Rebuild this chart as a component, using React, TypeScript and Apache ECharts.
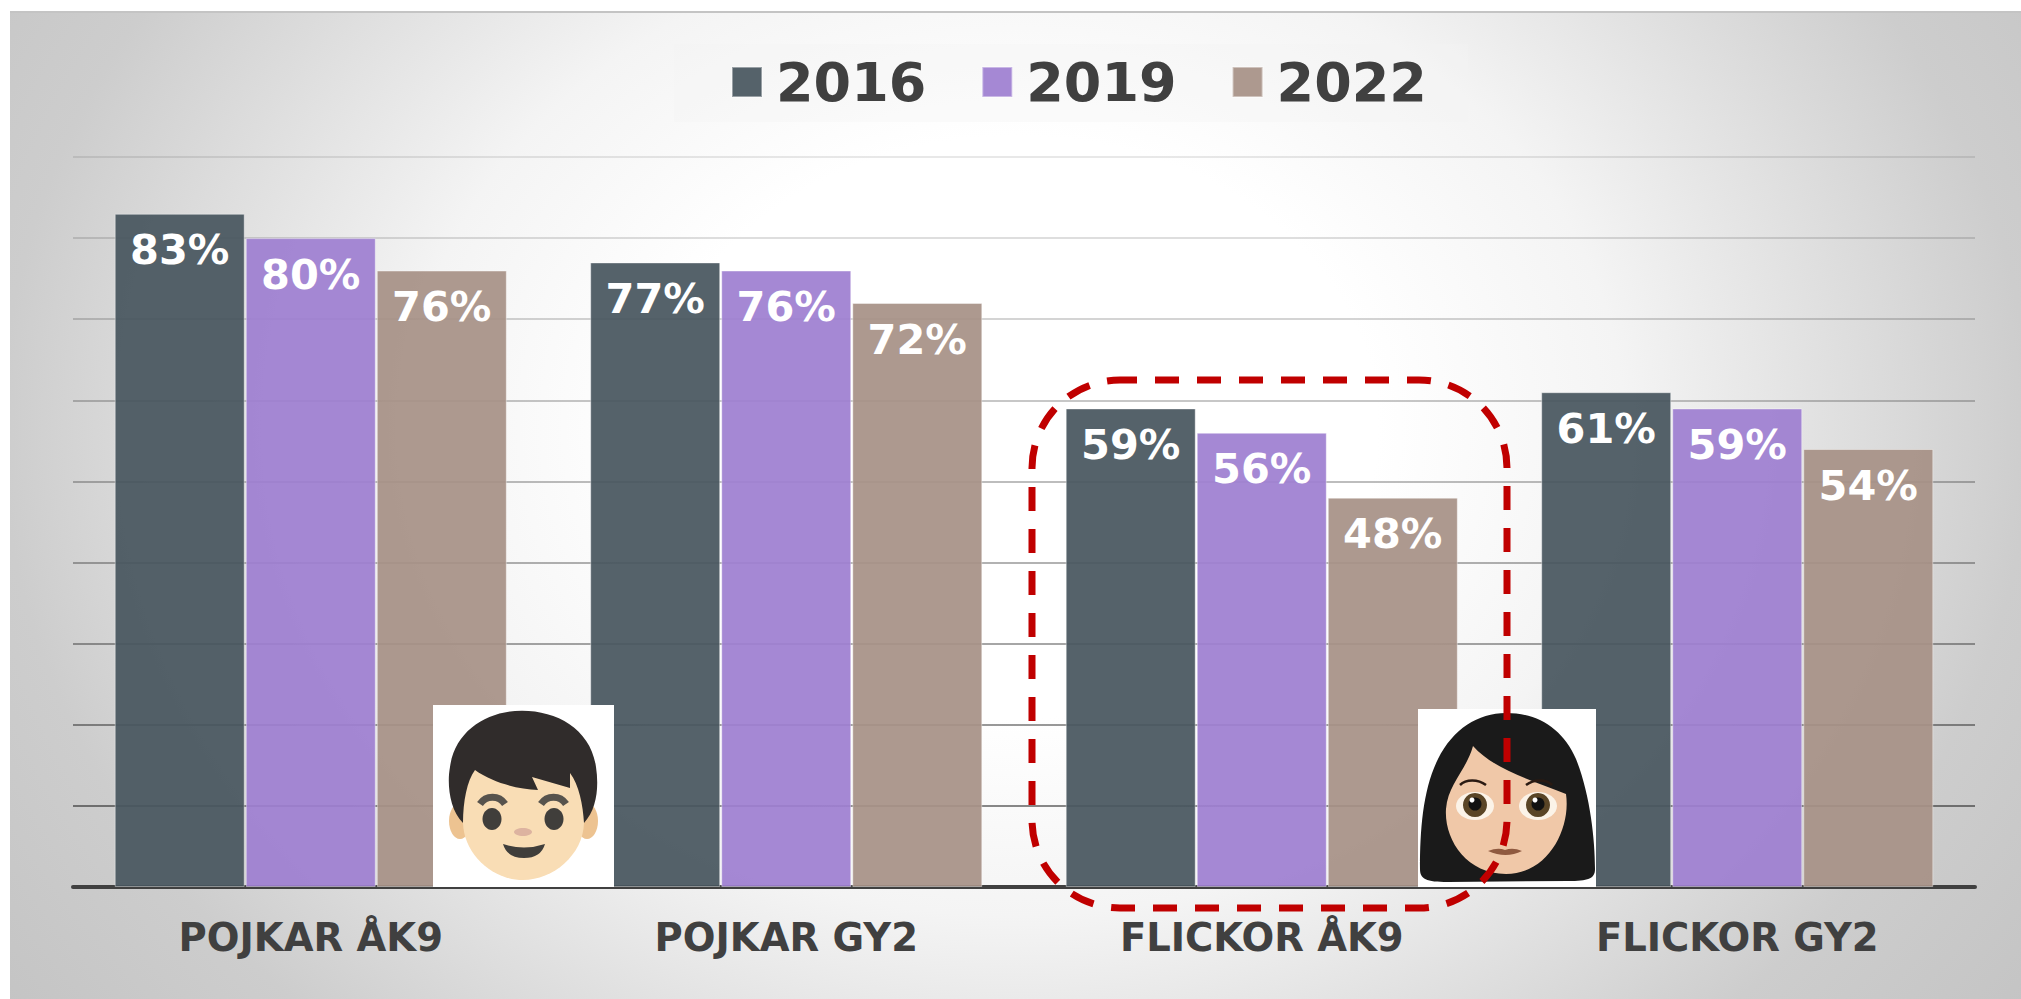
import React, { useEffect, useRef } from "react";
import * as echarts from "echarts";

const categories = ["POJKAR ÅK9", "POJKAR GY2", "FLICKOR ÅK9", "FLICKOR GY2"];
const years = ["2016", "2019", "2022"];
const values2016 = [83, 77, 59, 61];
const values2019 = [80, 76, 56, 59];
const values2022 = [76, 72, 48, 54];
const seriesColors = ["rgba(72,86,95,0.93)", "rgba(158,127,209,0.93)", "rgba(167,145,134,0.93)"];
const gridColors = [
  "rgba(0,0,0,0.5)", "rgba(0,0,0,0.46)", "rgba(0,0,0,0.4)", "rgba(0,0,0,0.35)", "rgba(0,0,0,0.3)",
  "rgba(0,0,0,0.26)", "rgba(0,0,0,0.22)", "rgba(0,0,0,0.17)", "rgba(0,0,0,0.13)", "rgba(0,0,0,0.09)",
];

const BOY_HAIR = "M30 118 C 16 104 14 78 17 62 C 22 25 55 5.7 89 5.7 C 125 5.7 158 25 163 62 C 166 82 164 104 151 118 C 150 100 146 80 137 68 L 137 83 L 99 72 L 105 85 C 85 84 60 78 42 65 C 34 76 30 96 30 118 Z";
const BOY_FACE = "M30 85 C 30 60 60 45 90 45 C 120 45 151 60 151 85 L 151 118 C 150 150 120 175 90 175 C 60 175 31 150 30 118 Z";
const BOY_MOUTH = "M70 139 Q 91 146 112 139 Q 108 153 91 153 Q 74 153 70 139 Z";
const GIRL_HAIR = "M2 160 C 2 120 5 80 20 50 C 35 20 60 4 88 4 C 120 4 145 20 158 50 C 172 85 177 130 177 160 C 177 170 170 172 150 172 L 30 173 C 8 173 2 170 2 160 Z";
const GIRL_FACE = "M55 37 C 75 60 115 72 148 85 C 153 120 130 165 88 165 C 48 165 26 130 28 100 C 30 75 48 62 55 37 Z";
const GIRL_MOUTH = "M70 142 Q 80 138 87 141 Q 95 138 104 142 Q 88 150 70 142 Z";

export default function App() {
  const ref = useRef<HTMLDivElement>(null);
  useEffect(() => {
    document.body.style.margin = "0";
    echarts.graphic.registerShape("boyHair", echarts.graphic.extendPath(BOY_HAIR, {}));
    echarts.graphic.registerShape("boyFace", echarts.graphic.extendPath(BOY_FACE, {}));
    echarts.graphic.registerShape("boyMouth", echarts.graphic.extendPath(BOY_MOUTH, {}));
    echarts.graphic.registerShape("girlHair", echarts.graphic.extendPath(GIRL_HAIR, {}));
    echarts.graphic.registerShape("girlFace", echarts.graphic.extendPath(GIRL_FACE, {}));
    echarts.graphic.registerShape("girlMouth", echarts.graphic.extendPath(GIRL_MOUTH, {}));
    const chart = echarts.init(ref.current!, undefined, { renderer: "svg" });
    const allValues = [values2016, values2019, values2022];
    const z = 50;
    chart.setOption({
      animation: false,
      legend: {
        left: 731,
        top: 55,
        padding: 0,
        itemWidth: 30,
        itemHeight: 30,
        itemGap: 55,
        icon: "rect",
        textStyle: { fontFamily: "DejaVu Sans", fontWeight: "bold", fontSize: 54, color: "#404040", padding: [0, 0, 0, 9] },
        data: years,
      },
      grid: { left: 73, top: 157, width: 1902, height: 730 },
      xAxis: {
        type: "category",
        data: categories,
        axisTick: { show: false },
        axisLine: { lineStyle: { color: "#404040", width: 4 } },
        axisLabel: { margin: 31, fontFamily: "DejaVu Sans", fontWeight: "bold", fontSize: 38.5, color: "#404040" },
      },
      yAxis: {
        type: "value",
        min: 0,
        max: 90,
        interval: 10,
        axisLabel: { show: false },
        axisLine: { show: false },
        axisTick: { show: false },
        splitLine: { lineStyle: { color: gridColors, width: 2 } },
      },
      series: years.map((y, i) => ({
        name: y,
        type: "bar",
        barWidth: 130,
        barGap: "0.8%",
        data: allValues[i],
        itemStyle: { color: seriesColors[i], borderColor: "rgba(255,255,255,0.4)", borderWidth: 1 },
        label: {
          show: true,
          position: "insideTop",
          distance: 15,
          formatter: "{c}%",
          fontFamily: "DejaVu Sans",
          fontWeight: "bold",
          fontSize: 41.5,
          color: "#ffffff",
        },
      })),
      graphic: [
        {
          type: "rect", z: 1, silent: true,
          shape: { x: 674, y: 44, width: 794, height: 78 },
          style: { fill: "rgba(244,244,244,0.35)" },
        },
        {
          type: "group", x: 433, y: 705, children: [
            { type: "rect", z, shape: { x: 0, y: 0, width: 181, height: 182 }, style: { fill: "#ffffff" } },
            { type: "ellipse", z, shape: { cx: 27, cy: 116, rx: 11, ry: 18 }, style: { fill: "#EDC391" } },
            { type: "ellipse", z, shape: { cx: 154, cy: 116, rx: 11, ry: 18 }, style: { fill: "#EDC391" } },
            { type: "boyFace", z, style: { fill: "#F9DDB5" } },
            { type: "boyHair", z, style: { fill: "#302c2b" } },
            { type: "ellipse", z, shape: { cx: 59, cy: 114, rx: 9.5, ry: 11 }, style: { fill: "#403e3b" } },
            { type: "ellipse", z, shape: { cx: 121, cy: 114, rx: 9.5, ry: 11 }, style: { fill: "#403e3b" } },
            { type: "bezierCurve", z, shape: { x1: 47, y1: 99, x2: 72, y2: 99, cpx1: 53, cpy1: 90, cpx2: 66, cpy2: 90 }, style: { stroke: "#57534d", lineWidth: 7, fill: "none" } },
            { type: "bezierCurve", z, shape: { x1: 108, y1: 99, x2: 133, y2: 99, cpx1: 114, cpy1: 90, cpx2: 127, cpy2: 90 }, style: { stroke: "#57534d", lineWidth: 7, fill: "none" } },
            { type: "ellipse", z, shape: { cx: 90, cy: 127, rx: 9, ry: 4 }, style: { fill: "#DDB3A0" } },
            { type: "boyMouth", z, style: { fill: "#403e3b" } },
          ],
        },
        {
          type: "group", x: 1418, y: 709, children: [
            { type: "rect", z, shape: { x: 0, y: 0, width: 178, height: 178 }, style: { fill: "#ffffff" } },
            { type: "girlHair", z, style: { fill: "#1a1a1a" } },
            { type: "girlFace", z, style: { fill: "#F0C8A8" } },
            { type: "ellipse", z, shape: { cx: 57, cy: 97, rx: 19, ry: 14 }, style: { fill: "#fbf3e8" } },
            { type: "ellipse", z, shape: { cx: 120, cy: 97, rx: 19, ry: 14 }, style: { fill: "#fbf3e8" } },
            { type: "circle", z, shape: { cx: 57, cy: 96, r: 12 }, style: { fill: "#5a4526" } },
            { type: "circle", z, shape: { cx: 120, cy: 96, r: 12 }, style: { fill: "#5a4526" } },
            { type: "circle", z, shape: { cx: 57, cy: 95, r: 6.5 }, style: { fill: "#111111" } },
            { type: "circle", z, shape: { cx: 120, cy: 95, r: 6.5 }, style: { fill: "#111111" } },
            { type: "circle", z, shape: { cx: 54, cy: 91, r: 2.5 }, style: { fill: "#ffffff" } },
            { type: "circle", z, shape: { cx: 117, cy: 91, r: 2.5 }, style: { fill: "#ffffff" } },
            { type: "bezierCurve", z, shape: { x1: 42, y1: 76, x2: 68, y2: 76, cpx1: 48, cpy1: 70, cpx2: 60, cpy2: 70 }, style: { stroke: "#2a1a12", lineWidth: 2.5, fill: "none" } },
            { type: "bezierCurve", z, shape: { x1: 108, y1: 76, x2: 134, y2: 76, cpx1: 116, cpy1: 70, cpx2: 128, cpy2: 70 }, style: { stroke: "#2a1a12", lineWidth: 2.5, fill: "none" } },
            { type: "girlMouth", z, style: { fill: "#8f5a40" } },
          ],
        },
        {
          type: "rect", z: 60, silent: true,
          shape: { x: 1032, y: 380, width: 475, height: 528, r: 88 },
          style: { fill: "none", stroke: "#C00000", lineWidth: 7, lineDash: [24, 18], lineDashOffset: 7 },
        },
      ],
    });
    return () => chart.dispose();
  }, []);
  return (
    <div style={{ position: "fixed", left: 0, top: 0, width: 2021, height: 999, background: "#ffffff", overflow: "hidden" }}>
      <div
        style={{
          position: "absolute", left: 10, top: 11, width: 2011, height: 988,
          borderTop: "2px solid #c4c4c4", boxSizing: "border-box",
          background: "radial-gradient(ellipse 72% 118% at 50% 42%, #ffffff 25%, #f4f4f4 42%, #cdcdcd 70%, #bcbcbc 100%)",
        }}
      />
      <div ref={ref} style={{ position: "absolute", left: 0, top: 0, width: 2021, height: 999 }} />
    </div>
  );
}
